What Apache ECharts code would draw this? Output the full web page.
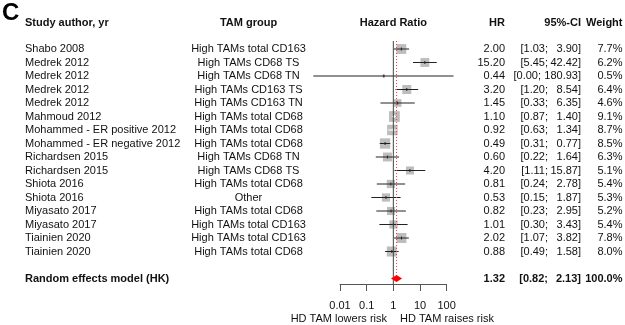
<!DOCTYPE html>
<html>
<head>
<meta charset="utf-8">
<script src="https://cdn.jsdelivr.net/npm/echarts@6/dist/echarts.min.js"></script>
<style>
  html, body { margin: 0; padding: 0; background: #fff; }
  #main { width: 625px; height: 325px; }
</style>
</head>
<body>
<div id="main"></div>
<script>
// study rows
const authors = [
  "Shabo 2008", "Medrek 2012", "Medrek 2012", "Medrek 2012", "Medrek 2012",
  "Mahmoud 2012", "Mohammed - ER positive 2012", "Mohammed - ER negative 2012",
  "Richardsen 2015", "Richardsen 2015", "Shiota 2016", "Shiota 2016",
  "Miyasato 2017", "Miyasato 2017", "Tiainien 2020", "Tiainien 2020"
];
const groups = [
  "High TAMs total CD163", "High TAMs CD68 TS", "High TAMs CD68 TN", "High TAMs CD163 TS",
  "High TAMs CD163 TN", "High TAMs total CD68", "High TAMs total CD68", "High TAMs total CD68",
  "High TAMs CD68 TN", "High TAMs CD68 TS", "High TAMs total CD68", "Other",
  "High TAMs total CD68", "High TAMs total CD163", "High TAMs total CD163", "High TAMs total CD68"
];
const hr = [2.00, 15.20, 0.44, 3.20, 1.45, 1.10, 0.92, 0.49, 0.60, 4.20, 0.81, 0.53, 0.82, 1.01, 2.02, 0.88];
const lower = [1.03, 5.45, 0.00, 1.20, 0.33, 0.87, 0.63, 0.31, 0.22, 1.11, 0.24, 0.15, 0.23, 0.30, 1.07, 0.49];
const upper = [3.90, 42.42, 180.93, 8.54, 6.35, 1.40, 1.34, 0.77, 1.64, 15.87, 2.78, 1.87, 2.95, 3.43, 3.82, 1.58];
const weights = [7.7, 6.2, 0.5, 6.4, 4.6, 9.1, 8.7, 8.5, 6.3, 5.1, 5.4, 5.3, 5.2, 5.4, 7.8, 8.0];

// pooled estimate
const pooledLabel = "Random effects model (HK)";
const pooledHr = 1.32;
const pooledLower = 0.82;
const pooledUpper = 2.13;
const pooledWeight = 100.0;

const tickValues = [0.01, 0.1, 1, 10, 100];
const tickLabels = ["0.01", "0.1", "1", "10", "100"];

// plot range of the hidden log axis (CI lines clip here)
const X_MIN = 0.001;
const X_MAX = 1000;
const POOLED_ROW = authors.length + 1;
const rowCats = [];
for (let i = 0; i <= POOLED_ROW; i++) rowCats.push(String(i));

const FONT = '11px "Liberation Sans", Arial, sans-serif';
const BOLD = 'bold 11px "Liberation Sans", Arial, sans-serif';
const TXT = "#111";

function txt(text, x, y, align, font) {
  return {
    type: "text",
    style: { text: text, x: x, y: y, align: align, verticalAlign: "middle", font: font || FONT, fill: TXT }
  };
}

function ciText(lo, up, y, font) {
  // "[lo;" then upper value, right aligned like the table
  const shift = up >= 100 ? 7 : 0;
  return [
    txt("[" + lo.toFixed(2) + ";", 548 - shift, y, "right", font),
    txt(up.toFixed(2) + "]", 581, y, "right", font)
  ];
}

function renderStudy(params, api) {
  const i = api.value(1);
  const y = api.coord([1, i])[1];
  const xEst = api.coord([hr[i], i])[0];
  const xLo = api.coord([Math.max(lower[i], X_MIN), i])[0];
  const xHi = api.coord([Math.min(upper[i], X_MAX), i])[0];
  const side = 3.55 * Math.sqrt(weights[i]);
  // CI fully inside the square -> drawn white
  const inside = xLo >= xEst - side / 2 && xHi <= xEst + side / 2;
  const lc = inside ? "#fff" : "#222";
  const children = [
    { type: "rect", shape: { x: xEst - side / 2, y: y - side / 2, width: side, height: side }, style: { fill: "#bdbdbd" } },
    { type: "line", shape: { x1: xLo, y1: y, x2: xHi, y2: y }, style: { stroke: lc, lineWidth: 1 } },
    { type: "line", shape: { x1: xEst, y1: y - 1.5, x2: xEst, y2: y + 1.5 }, style: { stroke: lc, lineWidth: 1 } },
    txt(authors[i], 25, y, "left"),
    txt(groups[i], 248.5, y, "center"),
    txt(hr[i].toFixed(2), 505, y, "right"),
    txt(weights[i].toFixed(1) + "%", 622.5, y, "right")
  ].concat(ciText(lower[i], upper[i], y));
  return { type: "group", children: children };
}

function renderPooled(params, api) {
  const y = api.coord([1, POOLED_ROW])[1];
  const xEst = api.coord([pooledHr, POOLED_ROW])[0];
  const xLo = api.coord([pooledLower, POOLED_ROW])[0];
  const xHi = api.coord([pooledUpper, POOLED_ROW])[0];
  const xOne = api.coord([1, 0])[0];
  const yTop = api.coord([1, 0])[1] - 8;
  return {
    type: "group",
    children: [
      { type: "line", shape: { x1: xOne, y1: yTop, x2: xOne, y2: y + 6 }, style: { stroke: "#444", lineWidth: 1 } },
      { type: "line", shape: { x1: xEst, y1: yTop, x2: xEst, y2: y - 3 }, style: { stroke: "#ff4040", lineWidth: 1, lineDash: [1, 2] } },
      { type: "polygon", shape: { points: [[xLo, y], [xEst, y - 3.5], [xHi, y], [xEst, y + 3.5]] }, style: { fill: "#ff0000" } },
      txt(pooledLabel, 25, y, "left", BOLD),
      txt(pooledHr.toFixed(2), 505, y, "right", BOLD),
      txt(pooledWeight.toFixed(1) + "%", 622.5, y, "right", BOLD)
    ].concat(ciText(pooledLower, pooledUpper, y, BOLD))
  };
}

const chart = echarts.init(document.getElementById("main"), null, { renderer: "canvas" });

const option = {
  animation: false,
  backgroundColor: "#fff",
  grid: [
    { left: 313.33, right: 151.67, top: 42.25, height: 243 },
    { left: 340, right: 178.33, top: 270, bottom: 41 }
  ],
  xAxis: [
    { type: "log", gridIndex: 0, min: X_MIN, max: X_MAX, show: false },
    {
      type: "log", gridIndex: 1, min: tickValues[0], max: tickValues[tickValues.length - 1],
      position: "bottom",
      axisLine: { lineStyle: { color: "#555", width: 1 } },
      axisTick: { length: 7, lineStyle: { color: "#555" } },
      splitLine: { show: false },
      axisLabel: {
        margin: 16, fontSize: 11, color: TXT, fontFamily: '"Liberation Sans", Arial, sans-serif',
        formatter: function (v) { return tickLabels[Math.round(Math.log10(v)) + 2]; }
      }
    }
  ],
  yAxis: [
    { type: "category", gridIndex: 0, data: rowCats, inverse: true, show: false },
    { type: "value", gridIndex: 1, show: false }
  ],
  graphic: [
    { type: "text", x: 2, y: 13, style: { text: "C", font: 'bold 24px "Liberation Sans", Arial, sans-serif', fill: "#000", align: "left", verticalAlign: "middle" } },
    { type: "text", x: 25, y: 22.5, style: { text: "Study author, yr", font: BOLD, fill: TXT, align: "left", verticalAlign: "middle" } },
    { type: "text", x: 248.5, y: 22.5, style: { text: "TAM group", font: BOLD, fill: TXT, align: "center", verticalAlign: "middle" } },
    { type: "text", x: 393.3, y: 22.5, style: { text: "Hazard Ratio", font: BOLD, fill: TXT, align: "center", verticalAlign: "middle" } },
    { type: "text", x: 505, y: 22.5, style: { text: "HR", font: BOLD, fill: TXT, align: "right", verticalAlign: "middle" } },
    { type: "text", x: 581, y: 22.5, style: { text: "95%-CI", font: BOLD, fill: TXT, align: "right", verticalAlign: "middle" } },
    { type: "text", x: 622.5, y: 22.5, style: { text: "Weight", font: BOLD, fill: TXT, align: "right", verticalAlign: "middle" } },
    { type: "text", x: 387, y: 319, style: { text: "HD TAM lowers risk", font: FONT, fill: TXT, align: "right", verticalAlign: "middle" } },
    { type: "text", x: 400, y: 319, style: { text: "HD TAM raises risk", font: FONT, fill: TXT, align: "left", verticalAlign: "middle" } }
  ],
  series: [
    {
      type: "custom",
      xAxisIndex: 0, yAxisIndex: 0,
      clip: false,
      renderItem: renderStudy,
      data: hr.map(function (v, i) { return [v, i]; })
    },
    {
      type: "custom",
      xAxisIndex: 0, yAxisIndex: 0,
      clip: false,
      renderItem: renderPooled,
      data: [[pooledHr, POOLED_ROW]]
    }
  ]
};

chart.setOption(option);
</script>
</body>
</html>
